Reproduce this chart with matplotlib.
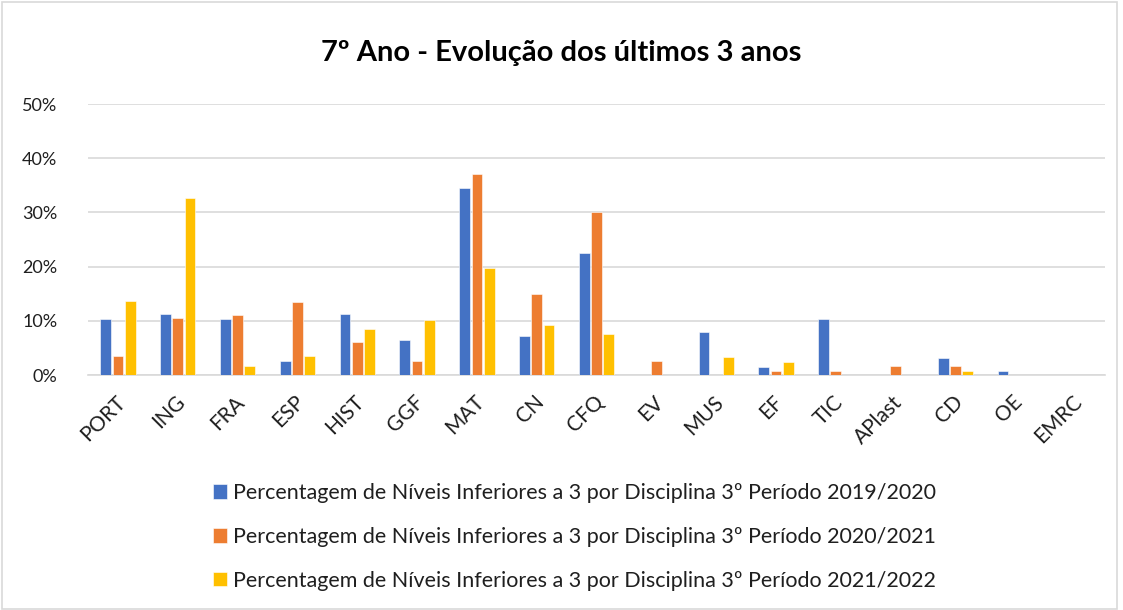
import matplotlib
matplotlib.use("Agg")
import matplotlib.pyplot as plt
import numpy as np
from matplotlib.patches import Rectangle
from matplotlib.transforms import ScaledTranslation

categories = ["PORT", "ING", "FRA", "ESP", "HIST", "GGF", "MAT", "CN", "CFQ", "EV",
              "MUS", "EF", "TIC", "APlast", "CD", "OE", "EMRC"]
s2019 = [10.4, 11.3, 10.4, 2.6, 11.3, 6.4, 34.6, 7.2, 22.6, 0.0, 8.0, 1.5, 10.4, 0.0, 3.1, 0.8, 0.0]
s2020 = [3.5, 10.5, 11.1, 13.4, 6.2, 2.7, 37.1, 14.9, 30.1, 2.6, 0.0, 0.8, 0.8, 1.7, 1.7, 0.0, 0.0]
s2021 = [13.7, 32.7, 1.7, 3.5, 8.6, 10.2, 19.7, 9.3, 7.6, 0.0, 3.4, 2.5, 0.0, 0.0, 0.8, 0.0, 0.0]
labels = ["Percentagem de Níveis Inferiores a 3 por Disciplina 3º Período 2019/2020",
          "Percentagem de Níveis Inferiores a 3 por Disciplina 3º Período 2020/2021",
          "Percentagem de Níveis Inferiores a 3 por Disciplina 3º Período 2021/2022"]
colors = ["#4472C4", "#ED7D31", "#FFC000"]
title = "7º Ano - Evolução dos últimos 3 anos"

plt.rcParams['font.family'] = ['Lato', 'DejaVu Sans']
txt_color = "#1f1f1f"

fig = plt.figure(figsize=(11.23, 6.10), dpi=100)
ax = fig.add_axes([0.0784, 0.385, 0.9056, 0.4445])

x = np.arange(len(categories))
w = 0.18
off = 0.205
handles = []
for i, (vals, c, lab) in enumerate(zip([s2019, s2020, s2021], colors, labels)):
    b = ax.bar(x + (i - 1) * off, np.array(vals) / 100, width=w, color=c,
               edgecolor="white", linewidth=0.4, label=lab, zorder=3)
    handles.append(b)

ax.set_xlim(-0.5, len(categories) - 0.5)
ax.set_ylim(0, 0.5)
ax.set_yticks(np.arange(0, 0.51, 0.1))
ax.set_yticklabels([f"{int(round(v*100))}%" for v in np.arange(0, 0.51, 0.1)], fontsize=13, color=txt_color)
ax.yaxis.grid(True, color="#D9D9D9", linewidth=1.2, zorder=0)
ax.set_axisbelow(True)
for s in ["top", "right", "left"]:
    ax.spines[s].set_visible(False)
ax.spines["bottom"].set_color("#D9D9D9")
ax.spines["bottom"].set_linewidth(1.2)
ax.tick_params(axis="both", length=0)
ax.tick_params(axis="y", pad=22)
ax.tick_params(axis="x", pad=12)
ax.set_xticks(x)
ax.set_xticklabels(categories, rotation=45, ha="right", va="top", rotation_mode="anchor",
                   fontsize=15, color=txt_color)
shift = ScaledTranslation(-3 / 100, 0, fig.dpi_scale_trans)
for lbl in ax.get_xticklabels():
    lbl.set_transform(lbl.get_transform() + shift)

fig.text(0.5, 0.913, title, ha="center", va="center", fontsize=21, fontweight="bold", color="black")

leg = fig.legend(handles=handles, labels=labels, loc="center", bbox_to_anchor=(0.5116, 0.1197),
                 ncol=1, frameon=False, fontsize=15.5, handlelength=0.67, handleheight=0.67,
                 handletextpad=0.3, labelspacing=1.1, labelcolor=txt_color)

fig.patches.append(Rectangle((0.002, 0.002), 0.993, 0.995, transform=fig.transFigure,
                             fill=False, edgecolor="#D9D9D9", linewidth=1.2))

fig.savefig("out.png", dpi=100)
